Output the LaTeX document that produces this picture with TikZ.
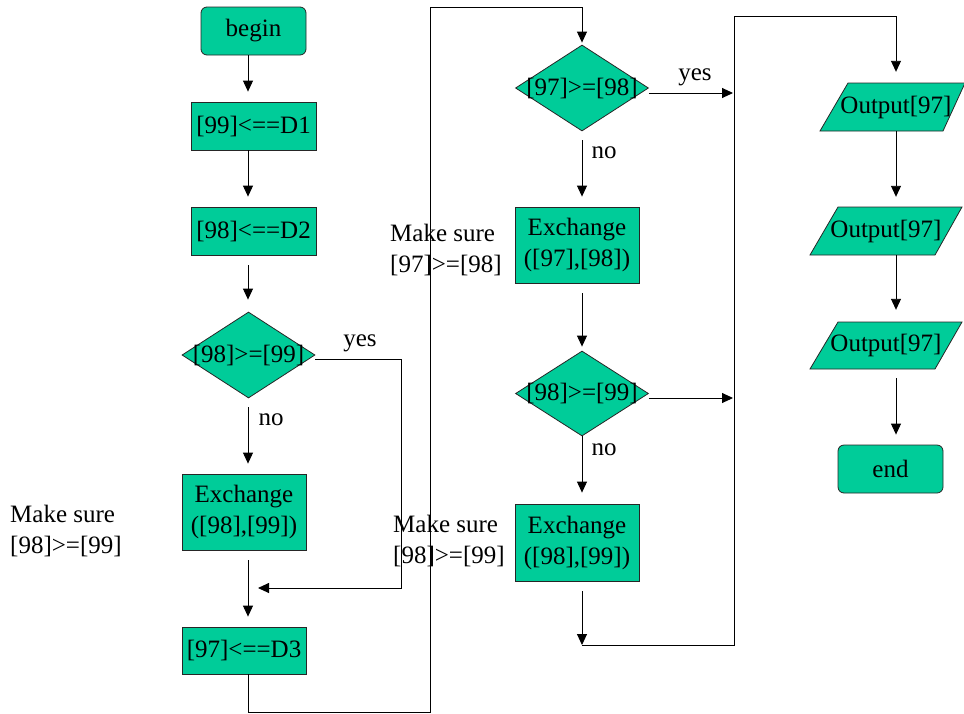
\documentclass[tikz,border=0pt]{standalone}
\usepackage{fontspec}
\setmainfont{Liberation Serif}
\usetikzlibrary{arrows.meta,shapes.geometric}
\definecolor{boxgreen}{RGB}{0,204,153}
\begin{document}
\begin{tikzpicture}[x=1pt,y=-1pt,
  every node/.style={font=\fontsize{25}{31}\selectfont},
  shp/.style={draw=black!85, line width=0.8pt, fill=boxgreen, inner sep=0pt},
  procbox/.style={shp, rectangle, align=center},
  termbox/.style={shp, rectangle, rounded corners=6pt},
  decbox/.style={shp, diamond},
  iobox/.style={rectangle, inner sep=0pt},
  txt/.style={inner sep=0pt, align=center},
  flow/.style={draw=black, line width=0.9pt, -{Triangle[width=10pt,length=11pt]}},
]
\useasboundingbox (0,0) rectangle (964,713);

% column guides and bend points
\coordinate (cA) at (248,0);
\coordinate (cB) at (582,0);
\coordinate (cC) at (896,0);
\coordinate (jR) at (734,0);
\coordinate (jY) at (401,0);
\coordinate (m1) at (258,588);
\coordinate (bot1) at (430,712);
\coordinate (top1) at (430,7);
\coordinate (m2) at (582,645);
\coordinate (top2) at (734,16);

% first column
\node[termbox, minimum width=105pt, minimum height=48pt] (begin) at (253.5,31) {begin};
\node[procbox, minimum width=125pt, minimum height=48pt] (s99) at (253.5,126) {[99]<==D1};
\node[procbox, minimum width=125pt, minimum height=48pt] (s98) at (253.5,231) {[98]<==D2};
\node[decbox, minimum width=133pt, minimum height=86pt] (c1) at (248.5,355) {};
\node[txt] (c1t) at (c1) {[98]>=[99]};
\node[procbox, minimum width=124pt, minimum height=76pt] (x1) at (244,512) {Exchange\\([98],[99])};
\node[procbox, minimum width=124pt, minimum height=47pt] (s97) at (244,650.5) {[97]<==D3};

% second column
\node[decbox, minimum width=133pt, minimum height=86pt] (c2) at (582,88) {};
\node[txt] (c2t) at (c2) {[97]>=[98]};
\node[procbox, minimum width=124pt, minimum height=76pt] (x2) at (577,245) {Exchange\\([97],[98])};
\node[decbox, minimum width=133pt, minimum height=85pt] (c3) at (582,393.5) {};
\node[txt] (c3t) at (c3) {[98]>=[99]};
\node[procbox, minimum width=124pt, minimum height=77pt] (x3) at (577,542.5) {Exchange\\([98],[99])};

% third column: output parallelograms
\draw[shp] (820,131) -- (943,131) -- (965,83) -- (848,83) -- cycle;
\draw[shp] (810,255) -- (935,255) -- (962,207) -- (838,207) -- cycle;
\draw[shp] (810,369) -- (935,369) -- (962,322) -- (838,322) -- cycle;
\node[iobox, minimum width=145pt, minimum height=48pt] (o1) at (892.5,107) {};
\node[txt] (o1t) at (896,107) {Output[97]};
\node[iobox, minimum width=152pt, minimum height=48pt] (o2) at (886,231) {};
\node[txt] (o2t) at (o2) {Output[97]};
\node[iobox, minimum width=152pt, minimum height=47pt] (o3) at (886,345.5) {};
\node[txt] (o3t) at (o3) {Output[97]};
\node[termbox, minimum width=105pt, minimum height=48pt] (end) at (890.5,469) {end};

% notes
\node[txt, anchor=west, align=left] (n1) at (10,531) {Make sure\\{}[98]>=[99]};
\node[txt, anchor=west, align=left] (n2) at (390,250) {Make sure\\{}[97]>=[98]};
\node[txt, anchor=west, align=left] (n3) at (393,541) {Make sure\\{}[98]>=[99]};

% branch labels
\node[txt] (y1) at (360,343) {yes};
\node[txt] (y2) at (695,77) {yes};
\node[txt] (no1) at (271,420) {no};
\node[txt] (no2) at (604,153) {no};
\node[txt] (no3) at (604,450) {no};

% connectors, first column
\draw[flow, shorten >=10pt] (begin.south -| cA) -- (s99.north -| cA);
\draw[flow, shorten >=10pt] (s99.south -| cA) -- (s98.north -| cA);
\draw[flow, shorten <=10pt, shorten >=12pt] (s98.south -| cA) -- (c1.north -| cA);
\draw[flow, shorten <=9pt, shorten >=10pt] (c1.south -| cA) -- (x1.north -| cA);
\draw[flow, shorten <=10pt, shorten >=10pt] (x1.south -| cA) -- (s97.north -| cA);
\draw[flow] ([yshift=-4pt]c1.east) -| (jY |- m1) -- (m1);
\draw[flow, shorten >=2pt] (s97.south -| cA) |- (bot1) -- (top1) -| (c2.north);

% connectors, second column
\draw[flow, shorten >=1pt] ([yshift=-5pt]c2.east) -- ([yshift=-5pt]c2.east -| jR);
\draw[flow, shorten <=9pt, shorten >=10pt] (c2.south) -- (x2.north -| cB);
\draw[flow, shorten <=10pt, shorten >=4pt] (x2.south -| cB) -- (c3.north);
\draw[flow, shorten >=1pt] ([yshift=-4.5pt]c3.east) -- ([yshift=-4.5pt]c3.east -| jR);
\draw[flow, shorten >=11pt] (c3.south) -- (x3.north -| cB);
\draw[flow, shorten <=10pt] (x3.south -| cB) -- (m2);
\draw[flow, shorten >=11pt] (m2) -| (top2) -| (o1.north -| cC);

% connectors, third column
\draw[flow, shorten >=10pt] (o1.south -| cC) -- (o2.north -| cC);
\draw[flow, shorten >=12pt] (o2.south -| cC) -- (o3.north -| cC);
\draw[flow, shorten <=9pt, shorten >=10pt] (o3.south -| cC) -- (end.north -| cC);
\end{tikzpicture}
\end{document}
